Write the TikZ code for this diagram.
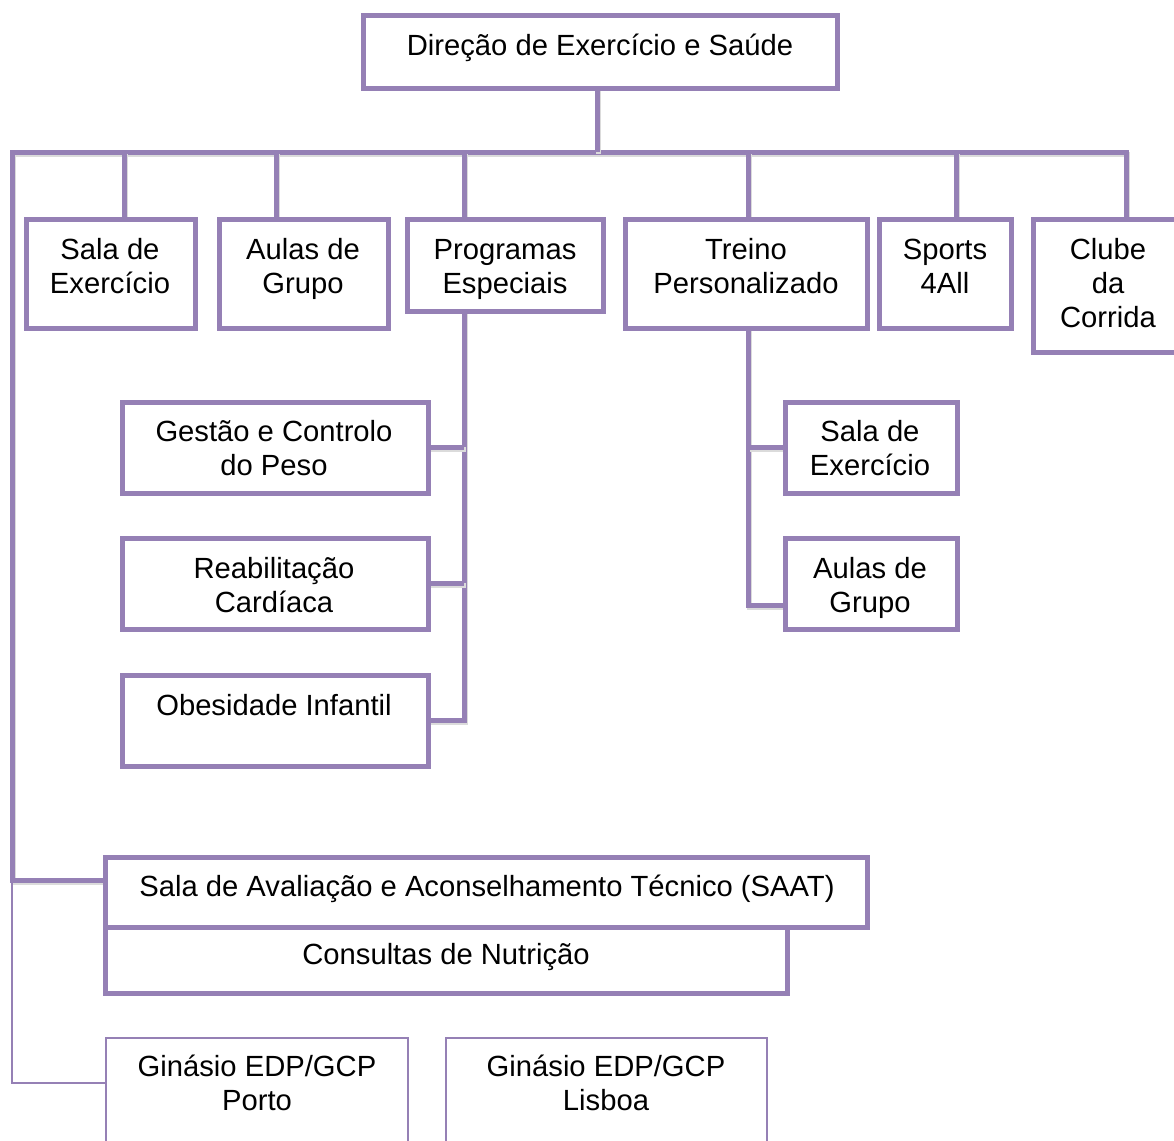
\documentclass[tikz,border=0pt]{standalone}
\usepackage{fontspec}
\setmainfont{Liberation Sans}
\definecolor{lila}{RGB}{149,128,181}
\begin{document}
\begin{tikzpicture}[x=1pt,y=-1pt,
  box/.style={draw=lila, line width=5pt, fill=white, rectangle, inner sep=0pt, outer sep=0pt},
  thinbox/.style={draw=lila, line width=1.5pt, fill=white, rectangle, inner sep=0pt, outer sep=0pt},
  conn/.style={draw=lila, line width=5pt, preaction={draw=black!14, line width=5pt, transform canvas={shift={(1.5pt,-2pt)}}}},
  thinconn/.style={draw=lila, line width=1.5pt},
  txt/.style={align=center, inner sep=0pt, font=\fontsize{29.2}{34}\selectfont}]
\useasboundingbox (0,0) rectangle (1174,1140);
\clip (0,0) rectangle (1174,1140);
\fill[white] (0,0) rectangle (1174,1140);

% boxes (geometry only)
\node[box, minimum width=474, minimum height=72] (dir) at (600,52) {};
\node[box, minimum width=169, minimum height=109] (s1) at (110.5,273.5) {};
\node[box, minimum width=169, minimum height=109] (a1) at (303.5,273.5) {};
\node[box, minimum width=196, minimum height=92] (pr) at (505,265) {};
\node[box, minimum width=242, minimum height=109] (tr) at (746,273.5) {};
\node[box, minimum width=132, minimum height=109] (sp) at (945,273.5) {};
\node[box, minimum width=150, minimum height=133] (cl) at (1108,285.5) {};
\node[box, minimum width=306, minimum height=91] (ge) at (275,447.5) {};
\node[box, minimum width=306, minimum height=91] (re) at (275,583.5) {};
\node[box, minimum width=306, minimum height=91] (ob) at (275,720.5) {};
\node[box, minimum width=172, minimum height=91] (s2) at (871,447.5) {};
\node[box, minimum width=172, minimum height=91] (a2) at (871,583.5) {};
\node[box, minimum width=762, minimum height=70] (saat) at (486,892) {};
\node[box, minimum width=682, minimum height=66] (con) at (446,960) {};
\node[thinbox, minimum width=302, minimum height=122] (gp) at (257,1099) {};
\node[thinbox, minimum width=321, minimum height=122] (gl) at (606.5,1099) {};

% connectors
\coordinate (busL) at (12,152);
\coordinate (sin) at ([yshift=12pt]saat.west);
\coordinate (pv) at ([xshift=-41pt]pr.south);
\coordinate (tv) at ([xshift=2pt]tr.south);
\path[conn] ([xshift=18pt]cl.north) |- (busL) |- (sin);
\path[conn] ([xshift=-3pt]dir.south) -- ([xshift=-3pt]dir.south |- busL);
\path[conn] ([xshift=13.5pt]s1.north) -- ([xshift=13.5pt]s1.north |- busL);
\path[conn] ([xshift=-27.5pt]a1.north) -- ([xshift=-27.5pt]a1.north |- busL);
\path[conn] ([xshift=-41pt]pr.north) -- ([xshift=-41pt]pr.north |- busL);
\path[conn] ([xshift=2pt]tr.north) -- ([xshift=2pt]tr.north |- busL);
\path[conn] ([xshift=11pt]sp.north) -- ([xshift=11pt]sp.north |- busL);
\path[conn] (pv) |- (ob.east);
\path[conn] (ge.east) -- (ge.east -| pv);
\path[conn] (re.east) -- (re.east -| pv);
\path[conn] (tv) |- ([yshift=-21.5pt]a2.west);
\path[conn] (s2.west) -- (s2.west -| tv);
\path[thinconn] (busL |- sin) |- ([yshift=16pt]gp.west);

% redraw box borders on top of connectors
\foreach \n in {dir,s1,a1,pr,tr,sp,cl,ge,re,ob,s2,a2,saat,con}{
  \draw[lila, line width=5pt] (\n.north west) rectangle (\n.south east);
}
\draw[lila, line width=1.5pt] (gp.north west) rectangle (gp.south east);
\draw[lila, line width=1.5pt] (gl.north west) rectangle (gl.south east);

% texts
\node[txt] (tdir) at (600,48) {Direção de Exercício e Saúde};
\node[txt] (ts1) at (110,266) {Sala de\\Exercício};
\node[txt] (ta1) at (303,269) {Aulas de\\Grupo};
\node[txt] (tpr) at (505,269) {Programas\\Especiais};
\node[txt] (ttr) at (746,266) {Treino\\Personalizado};
\node[txt] (tsp) at (945,266) {Sports\\4All};
\node[txt] (tcl) at (1108,283) {Clube\\da\\Corrida};
\node[txt] (tge) at (274,448) {Gestão e Controlo\\do Peso};
\node[txt] (tre) at (274,585) {Reabilitação\\Cardíaca};
\node[txt] (tob) at (274,705) {Obesidade Infantil};
\node[txt] (ts2) at (870,448) {Sala de\\Exercício};
\node[txt] (ta2) at (870,587.5) {Aulas de\\Grupo};
\node[txt] (tsaat) at (487,889) {Sala de Avaliação e Aconselhamento Técnico (SAAT)};
\node[txt] (tcon) at (446,957) {Consultas de Nutrição};
\node[txt] (tgp) at (257,1083) {Ginásio EDP/GCP\\Porto};
\node[txt] (tgl) at (606,1083) {Ginásio EDP/GCP\\Lisboa};
\end{tikzpicture}
\end{document}
